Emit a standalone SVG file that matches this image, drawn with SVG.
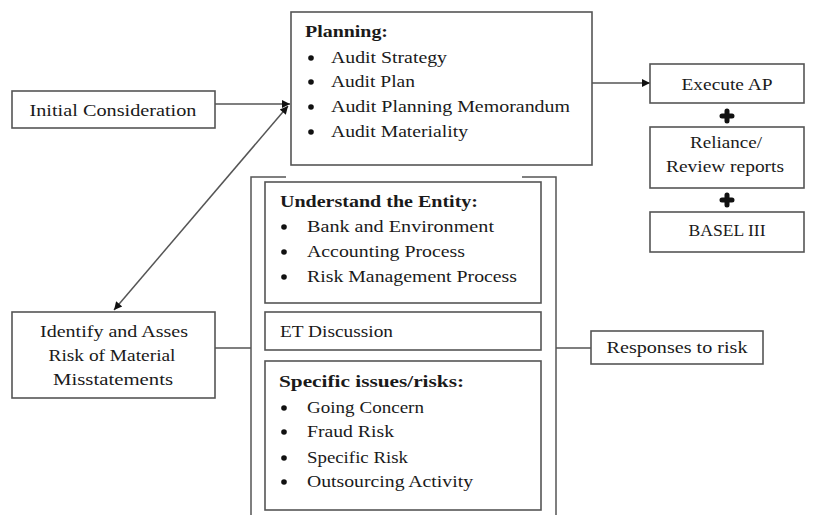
<svg xmlns="http://www.w3.org/2000/svg" width="833" height="515" viewBox="0 0 833 515">
<style>
.box{fill:#fff;stroke:#555;stroke-width:1.6}
.ln{fill:none;stroke:#555;stroke-width:1.5}
text{font-family:"Liberation Serif","Times New Roman",serif;font-size:17px;fill:#1a1a1a}
.b{font-weight:bold}
.c{text-anchor:middle}
.plus{stroke:#111;stroke-width:5;stroke-linecap:round}
</style>
<defs>
<marker id="ah" viewBox="0 0 10 10" refX="10" refY="5" markerWidth="10" markerHeight="8" markerUnits="userSpaceOnUse" orient="auto-start-reverse">
<path d="M0,0 L10,5 L0,10 z" fill="#111"/>
</marker>
</defs>
<rect width="833" height="515" fill="#fff"/>

<g id="connectors">
<line class="ln" x1="215" y1="104" x2="290" y2="104" marker-end="url(#ah)"/>
<line class="ln" x1="288" y1="106" x2="114" y2="310" marker-start="url(#ah)" marker-end="url(#ah)"/>
<line class="ln" x1="592" y1="83" x2="650" y2="83" marker-end="url(#ah)"/>
<line class="ln" x1="215" y1="348" x2="251" y2="348"/>
<line class="ln" x1="556" y1="348" x2="591" y2="348"/>
</g>

<g id="planning">
<rect class="box" x="291" y="12" width="301" height="153"/>
<text class="b" x="305" y="37" textLength="83" lengthAdjust="spacingAndGlyphs">Planning:</text>
<circle cx="311" cy="58" r="2.8" fill="#111"/>
<circle cx="311" cy="82" r="2.8" fill="#111"/>
<circle cx="311" cy="107" r="2.8" fill="#111"/>
<circle cx="311" cy="132" r="2.8" fill="#111"/>
<text x="331" y="63" textLength="116" lengthAdjust="spacingAndGlyphs">Audit Strategy</text>
<text x="331" y="87" textLength="84" lengthAdjust="spacingAndGlyphs">Audit Plan</text>
<text x="331" y="112" textLength="239" lengthAdjust="spacingAndGlyphs">Audit Planning Memorandum</text>
<text x="331" y="137" textLength="137" lengthAdjust="spacingAndGlyphs">Audit Materiality</text>
</g>

<g id="initial">
<rect class="box" x="12" y="91" width="203" height="37"/>
<text class="c" x="113" y="116" textLength="167" lengthAdjust="spacingAndGlyphs">Initial Consideration</text>
</g>

<g id="execute">
<rect class="box" x="650" y="64" width="154" height="39"/>
<text class="c" x="727" y="90" textLength="91" lengthAdjust="spacingAndGlyphs">Execute AP</text>
</g>

<g id="plus1"><path class="plus" d="M722,116 H732 M727,111 V121"/></g>

<g id="reliance">
<rect class="box" x="650" y="127" width="154" height="61"/>
<text class="c" x="726" y="148" textLength="72" lengthAdjust="spacingAndGlyphs">Reliance/</text>
<text class="c" x="725" y="172" textLength="118" lengthAdjust="spacingAndGlyphs">Review reports</text>
</g>

<g id="plus2"><path class="plus" d="M722,200 H732 M727,195 V205"/></g>

<g id="basel">
<rect class="box" x="650" y="212" width="154" height="40"/>
<text class="c" x="727" y="236" textLength="77" lengthAdjust="spacingAndGlyphs">BASEL III</text>
</g>

<g id="identify">
<rect class="box" x="12" y="312" width="203" height="86"/>
<text class="c" x="114" y="337" textLength="148" lengthAdjust="spacingAndGlyphs">Identify and Asses</text>
<text class="c" x="112" y="361" textLength="127" lengthAdjust="spacingAndGlyphs">Risk of Material</text>
<text class="c" x="113" y="385" textLength="120" lengthAdjust="spacingAndGlyphs">Misstatements</text>
</g>

<g id="container">
<path class="ln" d="M251,515 V177 H286 M522,177 H556 V515"/>
</g>

<g id="understand">
<rect class="box" x="265" y="182" width="276" height="121"/>
<text class="b" x="280" y="207" textLength="198" lengthAdjust="spacingAndGlyphs">Understand the Entity:</text>
<circle cx="284" cy="227" r="2.8" fill="#111"/>
<circle cx="284" cy="252" r="2.8" fill="#111"/>
<circle cx="284" cy="277" r="2.8" fill="#111"/>
<text x="307" y="232" textLength="187" lengthAdjust="spacingAndGlyphs">Bank and Environment</text>
<text x="307" y="257" textLength="158" lengthAdjust="spacingAndGlyphs">Accounting Process</text>
<text x="307" y="282" textLength="210" lengthAdjust="spacingAndGlyphs">Risk Management Process</text>
</g>

<g id="et">
<rect class="box" x="265" y="312" width="276" height="38"/>
<text x="280" y="337" textLength="113" lengthAdjust="spacingAndGlyphs">ET Discussion</text>
</g>

<g id="specific">
<rect class="box" x="265" y="361" width="276" height="149"/>
<text class="b" x="279" y="387" textLength="185" lengthAdjust="spacingAndGlyphs">Specific issues/risks:</text>
<circle cx="284" cy="408" r="2.8" fill="#111"/>
<circle cx="284" cy="432" r="2.8" fill="#111"/>
<circle cx="284" cy="458" r="2.8" fill="#111"/>
<circle cx="284" cy="482" r="2.8" fill="#111"/>
<text x="307" y="413" textLength="117" lengthAdjust="spacingAndGlyphs">Going Concern</text>
<text x="307" y="437" textLength="87" lengthAdjust="spacingAndGlyphs">Fraud Risk</text>
<text x="307" y="463" textLength="101" lengthAdjust="spacingAndGlyphs">Specific Risk</text>
<text x="307" y="487" textLength="166" lengthAdjust="spacingAndGlyphs">Outsourcing Activity</text>
</g>

<g id="responses">
<rect class="box" x="591" y="331" width="172" height="33"/>
<text class="c" x="677" y="353" textLength="141" lengthAdjust="spacingAndGlyphs">Responses to risk</text>
</g>
</svg>
